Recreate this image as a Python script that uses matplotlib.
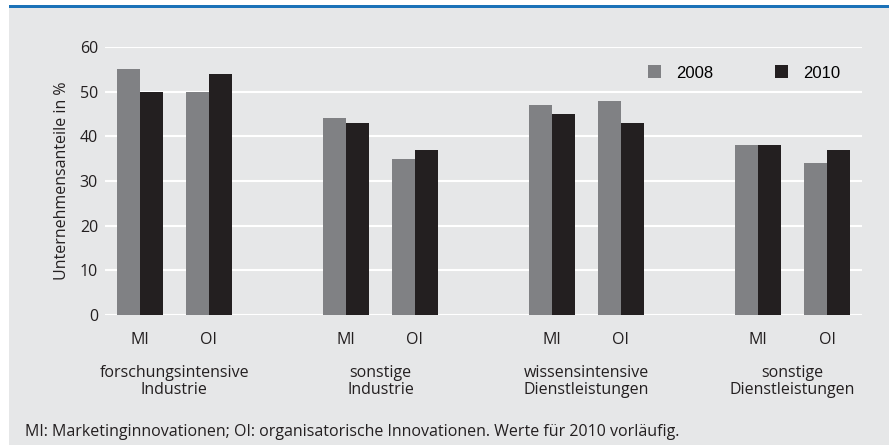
import matplotlib.pyplot as plt
from matplotlib.patches import Rectangle

# -----------------------------------------------------------------------------
# data

groups = ['forschungsintensive\nIndustrie', 'sonstige\nIndustrie',
          'wissensintensive\nDienstleistungen', 'sonstige\nDienstleistungen']
kinds = ['MI', 'OI']
years = ['2008', '2010']
v2008 = [55, 50, 44, 35, 47, 48, 38, 34]
v2010 = [50, 54, 43, 37, 45, 43, 38, 37]
yticks = [0, 10, 20, 30, 40, 50, 60]

# -----------------------------------------------------------------------------
# plot

W, H = 889, 445
bg = '#e6e7e8'
c08 = '#808184'
c10 = '#231f20'
lab_font = 'Open Sans'
fs = 11.5

fig = plt.figure(figsize=(W / 100, H / 100), dpi=100, facecolor='white')
fig.patches.append(Rectangle((9 / W, 0), 1, (H - 8) / H, transform=fig.transFigure,
                             facecolor=bg, edgecolor='none', zorder=-10))
fig.patches.append(Rectangle((9 / W, (H - 8) / H), 1, 3 / H, transform=fig.transFigure,
                             facecolor='#1b72b8', edgecolor='none', zorder=-10))

ax = fig.add_axes([105 / W, (H - 315) / H, (862 - 105) / W, (315 - 47) / H])
ax.set_facecolor(bg)

pos = []
for g in range(len(groups)):
    pos += [3 * g, 3 * g + 1]
w = 0.335
ax.bar([p - w / 2 for p in pos], v2008, w, color=c08, label=years[0], zorder=3)
ax.bar([p + w / 2 for p in pos], v2010, w, color=c10, label=years[1], zorder=3)

ax.set_xlim(-0.51, 10.51)
ax.set_ylim(0, 60)
ax.set_yticks(yticks)
ax.set_yticklabels([str(t) for t in yticks], fontfamily=lab_font, fontsize=fs, color='#231f20')
ax.set_xticks(pos)
ax.set_xticklabels([kinds[i % 2] for i in range(len(pos))], fontfamily=lab_font,
                   fontsize=fs, color='#231f20')
ax.tick_params(length=0, axis='y', pad=5)
ax.tick_params(length=0, axis='x', pad=12)
ax.grid(axis='y', color='white', lw=1.5, zorder=1)
for s in ax.spines.values():
    s.set_visible(False)

ax.set_ylabel('Unternehmensanteile in %', fontfamily=lab_font, fontsize=fs,
              color='#231f20', labelpad=7)

for g, name in enumerate(groups):
    ax.text(3 * g + 0.5, -14.8, name, ha='center', va='center', linespacing=1.1,
            fontfamily=lab_font, fontsize=fs, color='#231f20')

ax.legend(loc='center right', bbox_to_anchor=(0.991, 0.903), ncol=2, frameon=False,
          prop={'family': 'Liberation Sans', 'size': 12}, handlelength=0.78,
          handleheight=0.78, handletextpad=0.9, columnspacing=3.7)

fig.text(25 / W, 1 - 432 / H, 'MI: Marketinginnovationen; OI: organisatorische Innovationen. '
         'Werte für 2010 vorläufig.', ha='left', va='center', fontfamily=lab_font,
         fontsize=fs, color='#231f20')

fig.savefig('out.png', dpi=100, facecolor=fig.get_facecolor())
